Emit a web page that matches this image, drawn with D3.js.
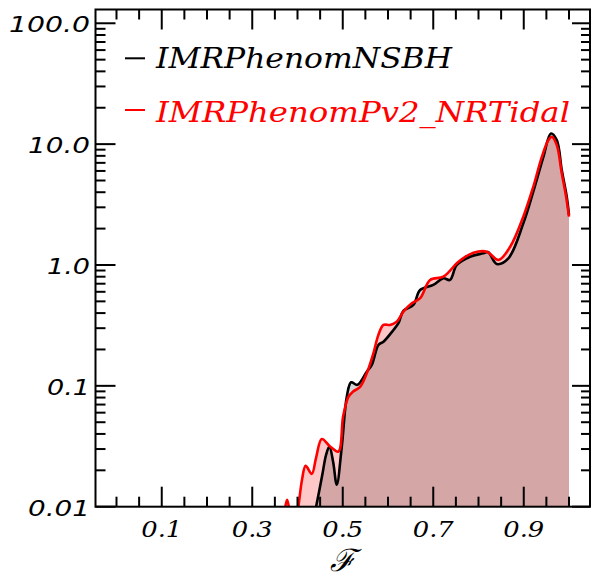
<!DOCTYPE html>
<html><head><meta charset="utf-8">
<script src="https://cdn.jsdelivr.net/npm/d3@7"></script>
<style>body{margin:0;background:#fff}svg{display:block}</style>
</head><body>
<script>
// ---- data ----
const xTicksMajor = [0.1, 0.3, 0.5, 0.7, 0.9];
const xTicksMinor = [0, 0.05, 0.15, 0.2, 0.25, 0.35, 0.4, 0.45, 0.55, 0.6, 0.65, 0.75, 0.8, 0.85, 0.95, 1.0];
const xTickLabels = ["0.1", "0.3", "0.5", "0.7", "0.9"];
const yTicksMajor = [0.01, 0.1, 1, 10, 100];
const yTickLabels = ["0.01", "0.1", "1.0", "10.0", "100.0"];
const seriesNames = ["IMRPhenomNSBH", "IMRPhenomPv2_NRTidal"];

const redF = [0.3615,0.370,0.377,0.384,0.393,0.402,0.410,0.418,0.4316,0.441,0.4537,0.472,0.4904,0.5008,0.5125,0.5228,0.5383,0.5531,0.5677,0.5788,0.590,0.6046,0.6194,0.634,0.6526,0.671,0.693,0.7224,0.752,0.7665,0.7887,0.8183,0.844,0.870,0.899,0.921,0.940,0.9545,0.962,0.973,0.984,0.9936,1.0];
const redV = [0.005,0.0085,0.0114,0.0085,0.006,0.0100,0.0167,0.0218,0.0187,0.0254,0.0363,0.0315,0.0286,0.0557,0.0811,0.0897,0.098,0.1273,0.186,0.264,0.319,0.319,0.340,0.411,0.4826,0.531,0.751,0.800,1.033,1.14,1.264,1.288,1.10,1.416,2.51,4.43,7.85,10.8,11.5,9.81,5.73,3.67,2.51];

const blackF = [0.4323,0.4411,0.4544,0.4632,0.4705,0.4787,0.4868,0.4979,0.509,0.5185,0.5324,0.5531,0.5642,0.5788,0.590,0.612,0.623,0.634,0.656,0.671,0.700,0.7224,0.737,0.752,0.7814,0.8108,0.821,0.8404,0.866,0.899,0.921,0.9434,0.960,0.973,0.984,0.995,1.0];
const blackV = [0.007,0.0100,0.018,0.0269,0.0315,0.0235,0.0152,0.0315,0.0816,0.107,0.102,0.131,0.149,0.218,0.232,0.290,0.330,0.417,0.467,0.621,0.684,0.776,0.752,1.0,1.171,1.249,1.28,1.019,1.135,2.21,4.04,7.85,12.25,10.8,6.10,3.67,2.59];

// ---- layout ----
const W = 592, H = 581;
const L = 95.5, R = 590, T = 9.5, B = 506.7;
const svg = d3.select("body").append("svg").attr("width", W).attr("height", H);

const x = d3.scaleLinear().domain([-0.0464, 1.0464]).range([L, R]);
const y = d3.scaleLog().domain([0.01, 130]).range([B, T]);

svg.append("clipPath").attr("id", "clip").append("rect")
  .attr("x", L).attr("y", T).attr("width", R - L).attr("height", B - T);

const g = svg.append("g").attr("clip-path", "url(#clip)");
const curve = d3.curveCatmullRom.alpha(0.5);

const red = redF.map((f, i) => [f, redV[i]]);
const black = blackF.map((f, i) => [f, blackV[i]]);

const area = d3.area().x(d => x(d[0])).y0(B + 5).y1(d => y(d[1])).curve(curve);
const line = d3.line().x(d => x(d[0])).y(d => y(d[1])).curve(curve);

g.append("path").datum(red).attr("d", area).attr("fill", "rgba(255,0,0,0.216)");
g.append("path").datum(black).attr("d", area).attr("fill", "rgba(0,0,0,0.17)");
g.append("path").datum(black).attr("d", line).attr("fill", "none").attr("stroke", "#000").attr("stroke-width", 2.6);
g.append("path").datum(red).attr("d", line).attr("fill", "none").attr("stroke", "#ff0000").attr("stroke-width", 2.6);

// ---- ticks ----
const tk = svg.append("g").attr("stroke", "#000").attr("stroke-width", 2);
function tickX(v, len) {
  tk.append("line").attr("x1", x(v)).attr("x2", x(v)).attr("y1", B).attr("y2", B - len);
  tk.append("line").attr("x1", x(v)).attr("x2", x(v)).attr("y1", T).attr("y2", T + len);
}
xTicksMajor.forEach(v => tickX(v, 20));
xTicksMinor.forEach(v => tickX(v, 10));

const yMinor = [];
[0.01, 0.1, 1, 10].forEach(d => { for (let k = 2; k <= 9; k++) yMinor.push(d * k); });
function tickY(v, lenL, lenR) {
  tk.append("line").attr("x1", L).attr("x2", L + lenL).attr("y1", y(v)).attr("y2", y(v));
  tk.append("line").attr("x1", R).attr("x2", R - lenR).attr("y1", y(v)).attr("y2", y(v));
}
yTicksMajor.forEach(v => tickY(v, 20, 18));
yMinor.forEach(v => tickY(v, 10, 9));

// frame
svg.append("rect").attr("x", L).attr("y", T).attr("width", R - L).attr("height", B - T)
  .attr("fill", "none").attr("stroke", "#000").attr("stroke-width", 2);

// ---- tick labels ----
const labW = s => s.replace(".", "").length * 19 + 5;
svg.append("g").selectAll("text").data(yTicksMajor).join("text")
  .attr("x", 90).attr("y", d => y(d) + 9)
  .attr("text-anchor", "end")
  .attr("font-family", "DejaVu Sans").attr("font-style", "italic").attr("font-size", 22)
  .attr("textLength", (d, i) => labW(yTickLabels[i])).attr("lengthAdjust", "spacingAndGlyphs")
  .text((d, i) => yTickLabels[i]);

svg.append("g").selectAll("text").data(xTicksMajor).join("text")
  .attr("x", d => x(d)).attr("y", 537)
  .attr("text-anchor", "middle")
  .attr("font-family", "DejaVu Serif").attr("font-style", "italic").attr("font-size", 22)
  .attr("textLength", 41).attr("lengthAdjust", "spacingAndGlyphs")
  .text((d, i) => xTickLabels[i]);

// axis label
svg.append("text").attr("x", x(0.5)).attr("y", 571).attr("text-anchor", "middle")
  .attr("font-family", "DejaVu Serif").attr("font-style", "italic").attr("font-size", 31)
  .text("\u2131");

// ---- legend ----
const leg = [{name: seriesNames[0], color: "#000", y: 58.3, base: 68.3, w: 296},
             {name: seriesNames[1], color: "#ff0000", y: 110, base: 121.7, w: 414}];
leg.forEach(l => {
  svg.append("line").attr("x1", 125).attr("x2", 145).attr("y1", l.y).attr("y2", l.y)
    .attr("stroke", l.color).attr("stroke-width", 2);
  svg.append("text").attr("x", 156).attr("y", l.base)
    .attr("font-family", "DejaVu Serif").attr("font-style", "italic").attr("font-size", 28)
    .attr("fill", l.color).attr("textLength", l.w).attr("lengthAdjust", "spacingAndGlyphs")
    .text(l.name);
});
</script>
</body></html>
